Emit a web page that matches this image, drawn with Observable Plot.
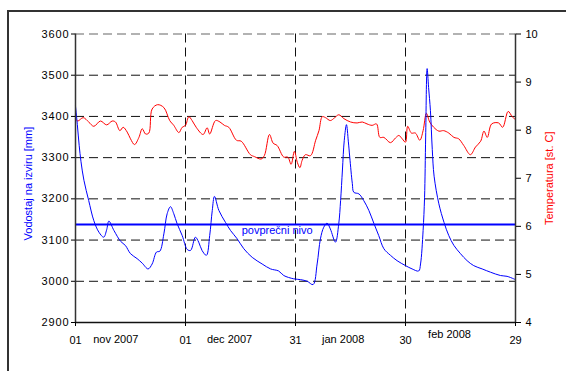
<!DOCTYPE html>
<html><head><meta charset="utf-8">
<script src="https://cdn.jsdelivr.net/npm/d3@7"></script>
<script src="https://cdn.jsdelivr.net/npm/@observablehq/plot@0.6"></script>
<style>
html,body{margin:0;padding:0;background:#fff;overflow:hidden;width:566px;height:371px}
#frame{position:absolute;left:7px;top:10px;width:620px;height:420px;border-left:2px solid #333;border-top:2px solid #333}
#chart{position:absolute;left:0;top:0}
</style></head>
<body><div id="frame"></div><div id="chart"></div>
<script>
// Water level [mm] : [day since 1 Nov 2007, value]
const levelSeries = [
 [0,3425],[0.5,3380],[1,3330],[1.5,3290],[2.3,3245],[3.6,3196],[5,3147],[6.4,3119],[7.7,3107],[8.5,3125],
 [9.1,3146],[10.5,3123],[12.3,3097],[13.6,3087],[15,3067],[16.8,3055],[18.2,3044],[19.8,3030],[20.9,3042],
 [22.1,3071],[23,3073],[24.1,3115],[25,3164],[25.9,3181],[26.8,3164],[27.7,3140],[29.1,3111],[30.5,3077],
 [31.4,3075],[32.7,3107],[33.6,3095],[34.5,3075],[35.7,3063],[36.6,3111],[37.3,3172],[37.9,3206],[39.1,3172],
 [40.9,3143],[42.3,3123],[44.1,3103],[45.9,3079],[48.2,3058],[50.9,3042],[53.2,3030],[55.4,3025],[56.8,3014],
 [59.5,3006],[61.4,3004],[63.2,3000],[64.8,2992],[65.9,3042],[66.8,3103],[67.7,3131],[68.6,3141],[69.5,3127],
 [70.9,3095],[71.8,3140],[72.3,3196],[72.8,3270],[73.3,3342],[73.9,3380],[74.4,3340],[74.8,3301],[75.5,3237],
 [75.9,3216],[77.3,3212],[78.6,3196],[80,3172],[81.4,3140],[82.7,3111],[84.1,3079],[85.9,3063],[87.7,3050],
 [90,3038],[91.8,3030],[93.6,3025],[94.1,3042],[94.8,3123],[95.2,3204],[95.5,3350],[95.9,3516],[96.3,3470],
 [96.8,3414],[97.3,3320],[97.8,3255],[99.1,3188],[100.5,3143],[101.8,3111],[103.2,3087],[105,3067],[106.8,3050],
 [108.6,3038],[110.9,3030],[113.2,3022],[115.9,3014],[117.7,3012],[119.5,3006],[120,3004]
];
// Temperature [st. C] : [day since 1 Nov 2007, value]
const tempSeries = [
 [0,8.24],[0.6,8.19],[2.1,8.26],[3.6,8.17],[5,8.08],[6.8,8.19],[8.5,8.11],[10,8.19],[10.9,8.17],[12.1,7.99],
 [13,8.06],[14.1,7.96],[15,7.82],[16.1,7.70],[17.3,7.85],[18.2,8.03],[19.1,7.92],[20,7.94],[20.9,8.44],[22.4,8.53],
 [24.1,8.47],[25.7,8.20],[26.8,8.10],[28.2,7.95],[29.1,8.06],[30,8.10],[30.9,8.28],[31.8,8.20],[33,8.05],[34.8,7.91],
 [35.9,8.05],[36.6,7.92],[38.2,8.20],[39.4,8.17],[40.6,8.10],[41.8,8.06],[43.9,7.79],[45.2,7.77],[47.7,7.49],
 [48.8,7.45],[50.6,7.40],[51.5,7.47],[52.9,7.91],[53.9,7.73],[55,7.68],[56.8,7.44],[57.9,7.44],[58.8,7.29],
 [59.7,7.56],[60.5,7.33],[61.2,7.22],[61.8,7.37],[62.7,7.49],[64.1,7.47],[65.5,7.79],[66.4,7.99],[67.3,8.28],
 [68.2,8.26],[69.5,8.20],[70.7,8.26],[71.8,8.32],[73.2,8.24],[75,8.17],[76.8,8.15],[78.2,8.17],[79.5,8.13],
 [80.9,8.10],[82.1,8.13],[83,7.85],[84.1,7.85],[85.9,7.74],[87.3,7.84],[88.2,7.89],[89.1,7.82],[90,7.75],
 [90.6,8.08],[91.6,7.94],[92.7,7.94],[93.9,7.79],[94.8,7.99],[95.7,8.35],[96.6,8.17],[97.7,8.06],[99.1,7.98],
 [100.4,7.99],[101.8,7.94],[103.2,7.85],[104.5,7.82],[105.9,7.68],[107.7,7.49],[109.1,7.65],[110.5,7.77],
 [111.4,7.98],[112.3,7.85],[113.5,8.13],[115.4,8.15],[116.5,8.06],[118,8.39],[119.1,8.28],[120,8.22]
];
const avgLevel = 3138;
const avgLabel = "povprečni nivo";
const avgLabelDay = 55;
const levelTicks = [2900,3000,3100,3200,3300,3400,3500,3600];
const tempTicks = [4,5,6,7,8,9,10];
const dateTickDays = [0,30,60,90,120];
const monthLabels = [
 {day:11, label:"nov 2007", raised:false},
 {day:42, label:"dec 2007", raised:false},
 {day:73, label:"jan 2008", raised:false},
 {day:102, label:"feb 2008", raised:true}
];
const leftTitle = "Vodostaj na izviru [mm]";
const rightTitle = "Temperatura [st. C]";

const start = Date.UTC(2007,10,1);
const toDate = d => new Date(start + d*864e5);
const toMM = t => 2900 + (t-4)*700/6;
const fromMM = v => (v-2900)*6/700 + 4;
const dash = "9,5";

const plot = Plot.plot({
  width:566, height:371,
  marginLeft:75, marginRight:51, marginTop:33.5, marginBottom:49,
  style:{fontFamily:"'Liberation Sans', Arial, sans-serif", fontSize:"11px", color:"#000", background:"transparent", overflow:"visible"},
  x:{type:"utc", domain:[toDate(0), toDate(120)]},
  y:{domain:[2900,3600]},
  marks:[
    Plot.ruleY(levelTicks.filter(v => v>2900 && v<3600), {stroke:"#111", strokeDasharray:dash}),
    Plot.ruleY([3600], {stroke:"#999", strokeDasharray:dash, strokeWidth:1.5}),
    Plot.ruleX(dateTickDays.slice(1,-1).map(toDate), {stroke:"#111", strokeDasharray:dash}),
    Plot.ruleY([avgLevel], {stroke:"#0000ff", strokeWidth:2}),
    Plot.line(tempSeries, {x:d=>toDate(d[0]), y:d=>toMM(d[1]), stroke:"#ff0000", strokeWidth:1, curve:"catmull-rom"}),
    Plot.line(levelSeries, {x:d=>toDate(d[0]), y:d=>d[1], stroke:"#0000ff", strokeWidth:1, curve:"catmull-rom"}),
    Plot.text([avgLabel], {x:toDate(avgLabelDay), y:avgLevel, text:d=>d, fill:"#0000ff", lineAnchor:"top", dy:2, fontSize:11}),
    Plot.ruleX([toDate(0)], {stroke:"#333", strokeWidth:1.5}),
    Plot.ruleX([toDate(120)], {stroke:"#333", strokeWidth:1.5}),
    Plot.ruleY([2900], {stroke:"#111", strokeWidth:1.5}),
    Plot.axisY({ticks:levelTicks, tickSize:4, tickPadding:2, label:null, tickFormat:d=>String(d)}),
    Plot.axisY({anchor:"right", ticks:tempTicks.map(toMM), tickSize:5, tickPadding:5, label:null,
      tickFormat:v=>String(Math.round(fromMM(v)))}),
    Plot.axisX({ticks:dateTickDays.map(toDate), tickSize:4, tickPadding:10, label:null,
      tickFormat:d3.utcFormat("%d")}),
    Plot.text(monthLabels.filter(d=>!d.raised), {x:d=>toDate(d.day), text:"label", frameAnchor:"bottom", lineAnchor:"top", dy:12.5}),
    Plot.text(monthLabels.filter(d=>d.raised), {x:d=>toDate(d.day), text:"label", frameAnchor:"bottom", lineAnchor:"top", dy:7.5}),
    Plot.text([leftTitle], {x:toDate(0), y:3237, text:d=>d, textAnchor:"middle", lineAnchor:"middle", dx:-47.5, rotate:-90, fill:"#0000ff"}),
    Plot.text([rightTitle], {x:toDate(120), y:3250, text:d=>d, textAnchor:"middle", lineAnchor:"middle", dx:34, rotate:-90, fill:"#ff0000"})
  ]
});
document.getElementById("chart").appendChild(plot);
// wider digits on the left value axis, as in the reference
const yLabelGroups = plot.querySelectorAll('g[aria-label="y-axis tick label"]');
if (yLabelGroups.length) d3.select(yLabelGroups[0]).selectAll("text").style("letter-spacing","0.9px");
</script>
</body></html>
